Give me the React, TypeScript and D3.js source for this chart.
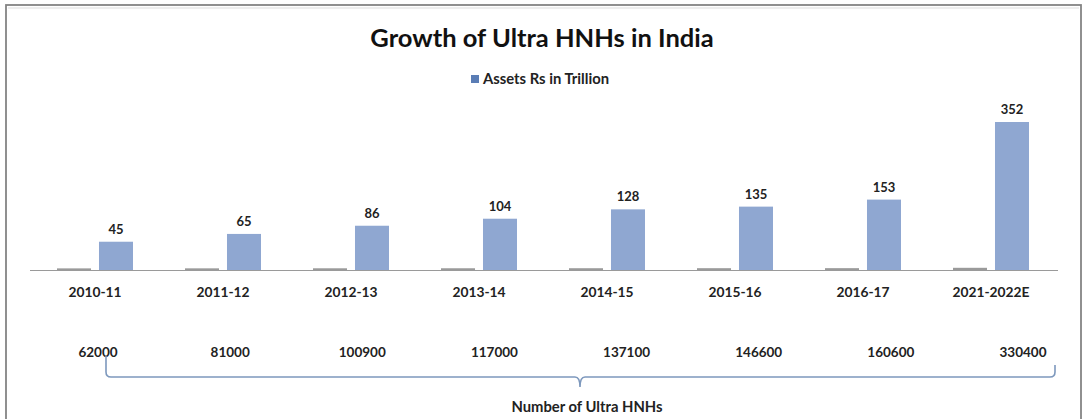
import { useEffect, useRef } from 'react'
import * as d3 from 'd3'

const CATEGORIES = ['2010-11', '2011-12', '2012-13', '2013-14', '2014-15', '2015-16', '2016-17', '2021-2022E']
const ASSETS = [45, 65, 86, 104, 128, 135, 153, 352]
const HNH_COUNT = [62000, 81000, 100900, 117000, 137100, 146600, 160600, 330400]
const SERIES = ['hnh', 'assets']
// value axis floor (axis crosses below zero)
const AXIS_MIN = -27.5

const FONT = 'Lato, "Open Sans", sans-serif'

export default function App() {
  const svgRef = useRef<SVGSVGElement>(null)

  useEffect(() => {
    if (!svgRef.current) return
    const W = 1083
    const H = 419
    const svg = d3.select(svgRef.current).attr('viewBox', `0 0 ${W} ${H}`)
    svg.selectAll('*').remove()

    // outer frame
    svg.append('rect').attr('x', 6).attr('y', 5).attr('width', 1075).attr('height', 430)
      .attr('fill', '#fff').attr('stroke', '#848484').attr('stroke-width', 1.8)
    svg.append('line').attr('x1', 8).attr('x2', 1079).attr('y1', 8).attr('y2', 8)
      .attr('stroke', '#e8e8e8').attr('stroke-width', 1.5)

    // title + legend
    svg.append('text').attr('x', 542).attr('y', 47).attr('text-anchor', 'middle')
      .attr('font-family', FONT).attr('font-weight', 700).attr('font-size', 25.5).attr('fill', '#111')
      .text('Growth of Ultra HNHs in India')
    svg.append('rect').attr('x', 471).attr('y', 75).attr('width', 8).attr('height', 8).attr('fill', '#5a7db5')
    svg.append('text').attr('x', 483).attr('y', 83.5)
      .attr('font-family', FONT).attr('font-weight', 700).attr('font-size', 14.8).attr('fill', '#222')
      .text('Assets Rs in Trillion')

    const x = d3.scaleBand().domain(CATEGORIES).range([31, 1055]).paddingInner(0)
    const xs = d3.scaleBand().domain(SERIES).range([26, x.bandwidth() - 26]).paddingInner(0.19)
    const y = d3.scaleLinear().domain([AXIS_MIN, 352]).range([270, 122])
    const stub = d3.scaleLinear().domain([0, d3.max(HNH_COUNT) as number]).range([1.5, 2.2])
    const base = y(AXIS_MIN)

    const g = svg.append('g')

    // gray stubs (number of HNHs series, negligible on this axis)
    g.selectAll('rect.hnh').data(HNH_COUNT).join('rect').attr('class', 'hnh')
      .attr('x', (_, i) => (x(CATEGORIES[i]) as number) + (xs('hnh') as number))
      .attr('width', xs.bandwidth())
      .attr('y', (d) => base - stub(d)).attr('height', (d) => stub(d))
      .attr('fill', '#9a9a9a')

    // asset bars
    g.selectAll('rect.assets').data(ASSETS).join('rect').attr('class', 'assets')
      .attr('x', (_, i) => (x(CATEGORIES[i]) as number) + (xs('assets') as number))
      .attr('width', xs.bandwidth())
      .attr('y', (d) => y(d)).attr('height', (d) => base - y(d))
      .attr('fill', '#8fa7d1')

    g.selectAll('text.val').data(ASSETS).join('text').attr('class', 'val')
      .attr('x', (_, i) => (x(CATEGORIES[i]) as number) + (xs('assets') as number) + xs.bandwidth() / 2)
      .attr('y', (d) => y(d) - 8)
      .attr('text-anchor', 'middle').attr('font-family', FONT).attr('font-weight', 700)
      .attr('font-size', 13).attr('fill', '#222')
      .text((d) => d)

    // category axis
    g.append('line').attr('x1', 30).attr('x2', 1058).attr('y1', base + 0.5).attr('y2', base + 0.5)
      .attr('stroke', '#9a9a9a').attr('stroke-width', 1.2)
    g.selectAll('text.cat').data(CATEGORIES).join('text').attr('class', 'cat')
      .attr('x', (d) => (x(d) as number) + x.bandwidth() / 2)
      .attr('y', 297)
      .attr('text-anchor', 'middle').attr('font-family', FONT).attr('font-weight', 700)
      .attr('font-size', 13.8).attr('fill', '#222')
      .text((d) => d)

    // HNH count row (text boxes spaced independently)
    const xp = d3.scalePoint().domain(CATEGORIES).range([98, 1023])
    g.selectAll('text.hnhv').data(HNH_COUNT).join('text').attr('class', 'hnhv')
      .attr('x', (_, i) => xp(CATEGORIES[i]) as number)
      .attr('y', 357)
      .attr('text-anchor', 'middle').attr('font-family', FONT).attr('font-weight', 700)
      .attr('font-size', 13.5).attr('fill', '#222')
      .text((d) => d)

    // brace under the row
    const bx0 = 106, bx1 = 1055, bm = 580, by = 377
    const brace = `M${bx0},356 L${bx0},${by - 5} Q${bx0},${by} ${bx0 + 5},${by} L${bm - 5},${by} Q${bm},${by} ${bm},${by + 10} Q${bm},${by} ${bm + 5},${by} L${bx1 - 5},${by} Q${bx1},${by} ${bx1},${by - 5} L${bx1},365`
    g.append('path').attr('d', brace).attr('fill', 'none')
      .attr('stroke', '#7d98bd').attr('stroke-width', 1.6)

    g.append('text').attr('x', 587).attr('y', 412).attr('text-anchor', 'middle')
      .attr('font-family', FONT).attr('font-weight', 700).attr('font-size', 14.8).attr('fill', '#222')
      .text('Number of Ultra HNHs')

    return () => { svg.selectAll('*').remove() }
  }, [])

  return (
    <div style={{ position: 'absolute', left: 0, top: 0, width: 1083, height: 419, overflow: 'hidden', background: '#fff' }}>
      <svg ref={svgRef} width={1083} height={419} style={{ display: 'block' }} />
    </div>
  )
}
